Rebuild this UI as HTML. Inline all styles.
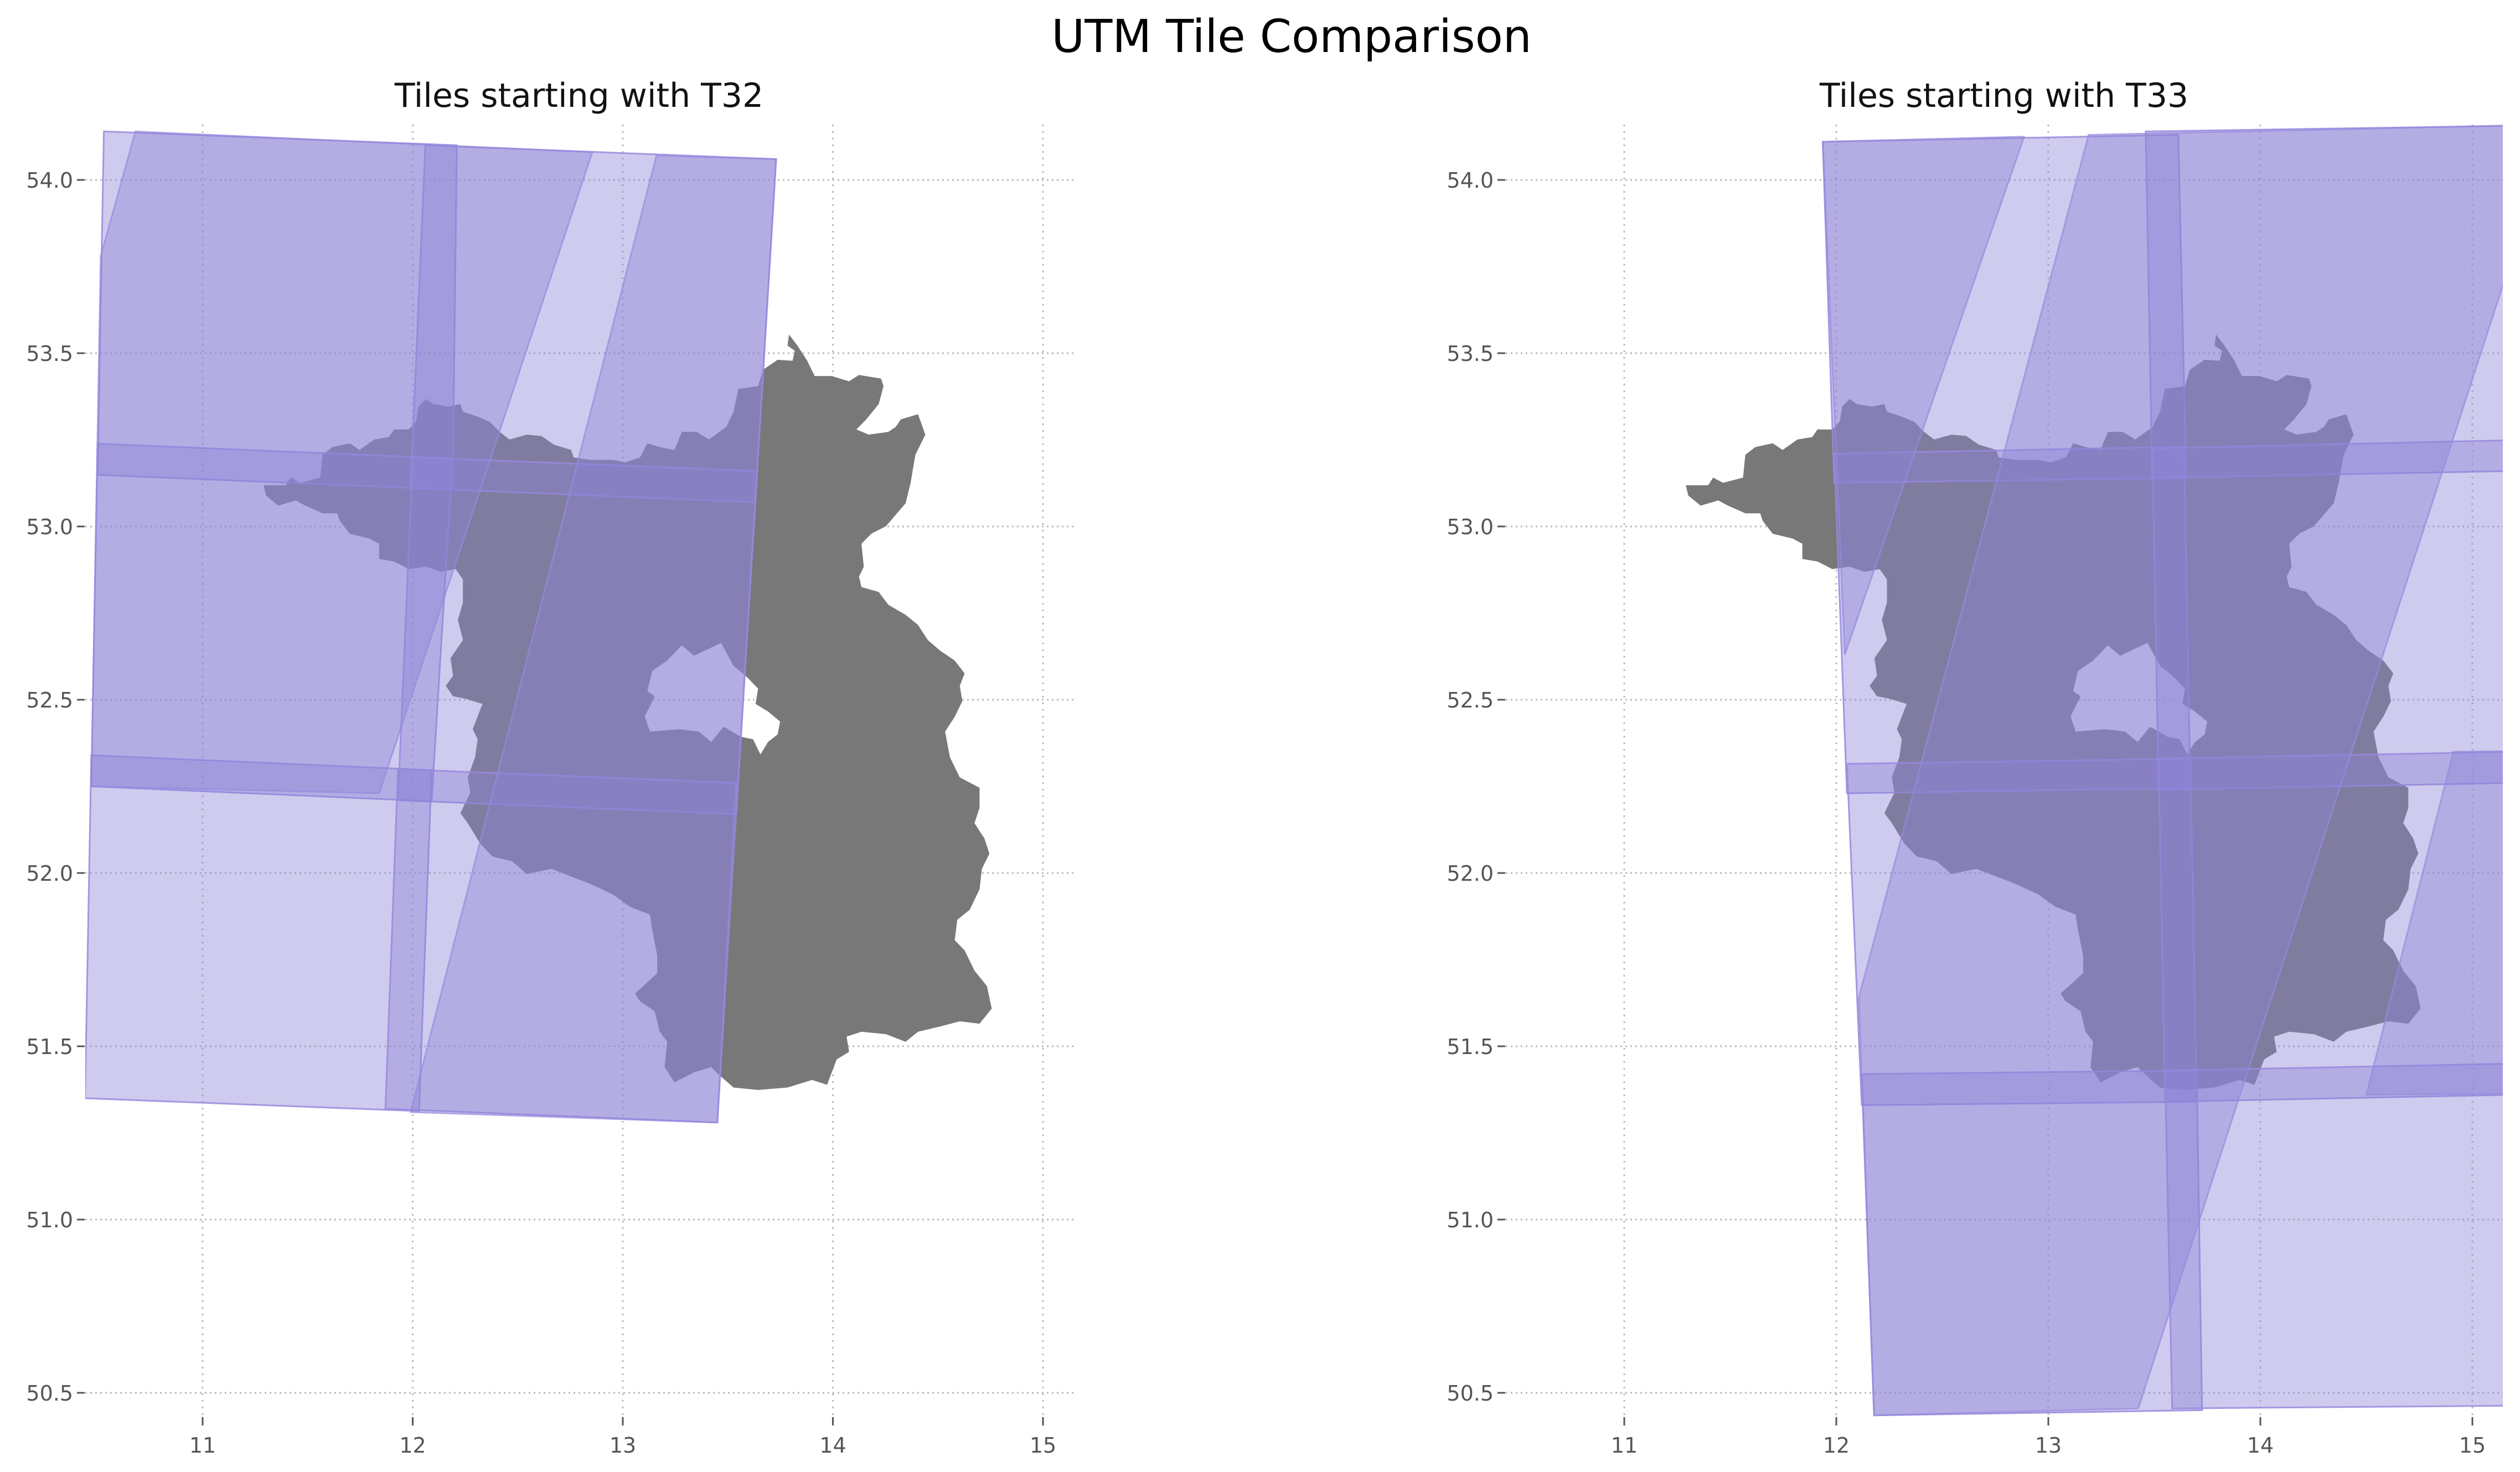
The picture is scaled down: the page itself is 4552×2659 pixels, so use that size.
<!DOCTYPE html>
<html><head><meta charset="utf-8"><style>
html,body{margin:0;padding:0;background:#fff;}
svg{display:block;font-family:"DejaVu Sans","Liberation Sans",sans-serif;}
</style></head><body>
<svg id="fig" width="4552" height="2659" viewBox="0 0 4552 2659">
<defs>
<clipPath id="clipL"><rect x="154" y="225" width="1785" height="2340"/></clipPath>
<clipPath id="clipR"><rect x="2720" y="225" width="1801" height="2340"/></clipPath>
</defs>
<text x="2333" y="94" font-size="82" text-anchor="middle" fill="#000">UTM Tile Comparison</text>
<text x="1046" y="193" font-size="60" text-anchor="middle" fill="#111">Tiles starting with T32</text>
<text x="3620" y="193" font-size="60" text-anchor="middle" fill="#111">Tiles starting with T33</text>
<g id="panelL"></g>
<g id="panelR"></g>
</svg>
<script>
const xTicks = [11, 12, 13, 14, 15];
const yTicks = [50.5, 51.0, 51.5, 52.0, 52.5, 53.0, 53.5, 54.0];
const yTickLabels = ["50.5", "51.0", "51.5", "52.0", "52.5", "53.0", "53.5", "54.0"];

const stateOutline = [[13.791,53.554],[13.784,53.522],[13.819,53.507],[13.808,53.478],[13.737,53.481],[13.667,53.452],[13.644,53.405],[13.550,53.397],[13.527,53.331],[13.492,53.287],[13.410,53.251],[13.351,53.273],[13.281,53.273],[13.246,53.221],[13.176,53.229],[13.117,53.240],[13.082,53.199],[13.012,53.185],[12.953,53.192],[12.848,53.192],[12.766,53.199],[12.754,53.221],[12.672,53.236],[12.613,53.261],[12.543,53.265],[12.461,53.251],[12.414,53.273],[12.367,53.302],[12.309,53.317],[12.239,53.331],[12.227,53.353],[12.168,53.346],[12.098,53.353],[12.063,53.368],[12.028,53.346],[12.016,53.302],[11.981,53.280],[11.911,53.280],[11.887,53.258],[11.817,53.251],[11.747,53.221],[11.700,53.240],[11.618,53.229],[11.571,53.207],[11.560,53.141],[11.466,53.126],[11.419,53.141],[11.396,53.119],[11.290,53.119],[11.302,53.089],[11.360,53.060],[11.443,53.075],[11.489,53.060],[11.571,53.038],[11.641,53.038],[11.653,53.016],[11.700,52.979],[11.794,52.965],[11.840,52.950],[11.840,52.906],[11.911,52.899],[11.981,52.877],[12.063,52.884],[12.133,52.869],[12.204,52.877],[12.239,52.847],[12.239,52.781],[12.215,52.730],[12.239,52.672],[12.180,52.620],[12.192,52.569],[12.157,52.540],[12.192,52.510],[12.250,52.503],[12.332,52.488],[12.309,52.452],[12.286,52.415],[12.309,52.386],[12.297,52.334],[12.262,52.276],[12.274,52.232],[12.227,52.173],[12.262,52.144],[12.321,52.085],[12.379,52.048],[12.473,52.034],[12.543,51.997],[12.660,52.012],[12.754,51.990],[12.848,51.968],[12.953,51.938],[13.035,51.902],[13.129,51.880],[13.140,51.836],[13.164,51.762],[13.164,51.711],[13.058,51.652],[13.082,51.630],[13.152,51.601],[13.175,51.543],[13.211,51.513],[13.199,51.440],[13.246,51.396],[13.339,51.425],[13.421,51.440],[13.457,51.418],[13.527,51.381],[13.644,51.374],[13.784,51.381],[13.901,51.403],[13.972,51.389],[14.018,51.462],[14.077,51.484],[14.065,51.528],[14.136,51.542],[14.253,51.535],[14.346,51.513],[14.405,51.542],[14.510,51.557],[14.604,51.572],[14.698,51.565],[14.756,51.609],[14.733,51.674],[14.674,51.718],[14.627,51.777],[14.580,51.806],[14.592,51.865],[14.651,51.894],[14.698,51.953],[14.709,52.012],[14.745,52.056],[14.721,52.100],[14.674,52.144],[14.698,52.188],[14.698,52.246],[14.604,52.276],[14.557,52.334],[14.534,52.408],[14.581,52.452],[14.616,52.496],[14.604,52.540],[14.627,52.576],[14.580,52.613],[14.510,52.642],[14.452,52.672],[14.405,52.716],[14.346,52.745],[14.264,52.774],[14.218,52.811],[14.136,52.825],[14.124,52.855],[14.147,52.884],[14.136,52.950],[14.183,52.979],[14.253,53.001],[14.346,53.067],[14.370,53.126],[14.382,53.170],[14.393,53.207],[14.440,53.265],[14.405,53.324],[14.323,53.309],[14.299,53.287],[14.264,53.273],[14.171,53.265],[14.112,53.280],[14.159,53.309],[14.218,53.353],[14.241,53.405],[14.229,53.427],[14.124,53.437],[14.077,53.419],[13.995,53.434],[13.913,53.434],[13.878,53.478],[13.831,53.522]];
const berlinHole = [[13.281,52.657],[13.339,52.627],[13.468,52.664],[13.527,52.598],[13.585,52.569],[13.644,52.532],[13.632,52.488],[13.691,52.466],[13.749,52.437],[13.737,52.400],[13.691,52.378],[13.655,52.342],[13.620,52.386],[13.562,52.393],[13.480,52.422],[13.421,52.378],[13.362,52.408],[13.269,52.415],[13.129,52.408],[13.105,52.452],[13.152,52.510],[13.117,52.525],[13.140,52.583],[13.211,52.613]];

const tilesT32 = [
 [[10.53,54.14],[12.21,54.10],[12.19,53.106],[10.50,53.149]],
 [[10.50,53.239],[12.19,53.196],[12.09,52.207],[10.47,52.25]],
 [[10.47,52.34],[12.09,52.297],[12.03,51.313],[10.44,51.35]],
 [[12.06,54.10],[13.73,54.06],[13.63,53.07],[11.99,53.111]],
 [[12.00,53.20],[13.64,53.16],[13.54,52.17],[11.93,52.21]],
 [[11.93,52.30],[13.54,52.26],[13.45,51.28],[11.87,51.32]]
];
const swathsT32 = [
 [[10.68,54.14],[12.855,54.08],[11.84,52.23],[10.47,52.25],[10.515,53.78]],
 [[13.16,54.07],[13.73,54.06],[13.45,51.28],[11.99,51.31]]
];
const tilesT33 = [
 [[11.936,54.11],[13.613,54.13],[13.65,53.14],[11.99,53.126]],
 [[11.99,53.21],[13.64,53.23],[13.67,52.245],[12.05,52.23]],
 [[12.05,52.315],[13.67,52.33],[13.70,51.34],[12.12,51.33]],
 [[12.12,51.42],[13.70,51.43],[13.725,50.45],[12.178,50.435]],
 [[13.459,54.14],[15.6,54.16],[15.6,53.165],[13.49,53.14]],
 [[13.49,53.225],[15.6,53.255],[15.6,52.265],[13.52,52.24]],
 [[13.52,52.33],[15.6,52.355],[15.6,51.365],[13.55,51.34]],
 [[13.55,51.43],[15.6,51.455],[15.6,50.465],[13.584,50.455]]
];
const swathsT33 = [
 [[11.936,54.11],[12.886,54.125],[12.04,52.63]],
 [[13.19,54.13],[15.39,54.16],[13.424,50.455],[12.178,50.435],[12.106,51.64]],
 [[14.91,52.35],[15.6,52.355],[15.6,51.365],[14.50,51.36]]
];

const NS = "http://www.w3.org/2000/svg";
function mk(tag, attrs, parent){
  const e = document.createElementNS(NS, tag);
  for (const k in attrs) e.setAttribute(k, attrs[k]);
  parent.appendChild(e);
  return e;
}
function makeAxes(x11, pxPerLon){
  return {
    x: lon => x11 + (lon - 11) * pxPerLon,
    y: lat => 325 + (54 - lat) * 626
  };
}
function ringPath(ring, ax){
  return ring.map((p,i)=>(i?"L":"M")+ax.x(p[0]).toFixed(1)+","+ax.y(p[1]).toFixed(1)).join("")+"Z";
}
function drawPanel(g, ax, box, clipId, tiles, swaths, prefix){
  const grid = mk("g", {}, g);
  
  
  xTicks.forEach(t=>{
    const l = mk("line", {x1:ax.x(t), x2:ax.x(t), y1:box.y0, y2:box.y1, stroke:"#b8b8b8", "stroke-width":3, "stroke-dasharray":"3,9"}, grid);
    
    
  });
  yTicks.forEach(t=>{
    const l = mk("line", {x1:box.x0, x2:box.x1, y1:ax.y(t), y2:ax.y(t), stroke:"#b8b8b8", "stroke-width":3, "stroke-dasharray":"3,6"}, grid);
    
    
  });
  const plot = mk("g", {"clip-path":"url(#"+clipId+")"}, g);
  
  
  const st = mk("path", {d: ringPath(stateOutline, ax) + ringPath(berlinHole, ax), fill:"#787878", "fill-rule":"evenodd"}, plot);
  
  
  tiles.forEach(t=>{
    const p = mk("path", {d: ringPath(t, ax), fill:"rgb(140,130,215)", "fill-opacity":0.42, stroke:"rgb(150,138,222)", "stroke-opacity":0.85, "stroke-width":3}, plot);
    
    
  });
  swaths.forEach(t=>{
    const p = mk("path", {d: ringPath(t, ax), fill:"rgb(140,130,215)", "fill-opacity":0.42, stroke:"rgb(150,138,222)", "stroke-opacity":0.7, "stroke-width":3}, plot);
    
    
  });
  xTicks.forEach(t=>{
    const tk = mk("line", {x1:ax.x(t), x2:ax.x(t), y1:2560, y2:2575, stroke:"#555", "stroke-width":3}, g);
    
    
    const tx = mk("text", {x:ax.x(t), y:2624, "font-size":38, fill:"#555", "text-anchor":"middle"}, g);
    tx.textContent = String(t);
    
    
  });
  yTicks.forEach((t,i)=>{
    const tk = mk("line", {x1:box.x0-15, x2:box.x0-1, y1:ax.y(t), y2:ax.y(t), stroke:"#555", "stroke-width":3}, g);
    
    
    const tx = mk("text", {x:box.x0-22, y:ax.y(t)+14, "font-size":38, fill:"#555", "text-anchor":"end"}, g);
    tx.textContent = yTickLabels[i];
    
    
  });
}
drawPanel(document.getElementById("panelL"), makeAxes(366, 379.5), {x0:154, x1:1939, y0:225, y1:2560}, "clipL", tilesT32, swathsT32, "t32");
drawPanel(document.getElementById("panelR"), makeAxes(2934, 383), {x0:2720, x1:4521, y0:225, y1:2560}, "clipR", tilesT33, swathsT33, "t33");
</script>
</body></html>
